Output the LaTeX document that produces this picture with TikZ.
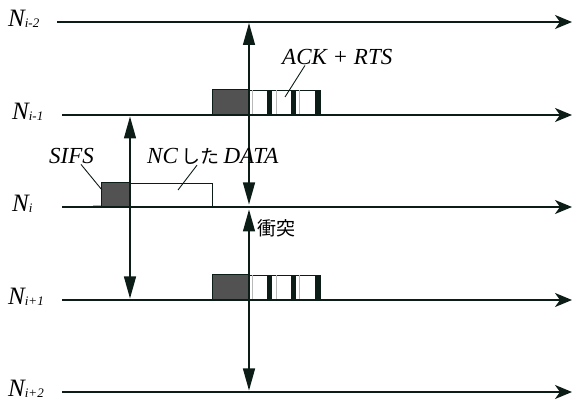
\documentclass[tikz,border=0pt]{standalone}
\usepackage{fontspec}
\setmainfont{Liberation Serif}
\newfontfamily\jpfont{Noto Sans CJK JP}
\usetikzlibrary{arrows.meta}

\definecolor{ink}{RGB}{12,28,22}
\definecolor{slotgray}{RGB}{82,82,82}
\newcommand{\Nlab}[1]{{\fontsize{25}{28}\selectfont\textit{N}}\raisebox{-1pt}{\fontsize{13}{13}\selectfont\textit{#1}}}

\begin{document}
\begin{tikzpicture}[x=1pt,y=-1pt,
  every node/.style={inner sep=0pt,font=\fontsize{23}{26}\selectfont\itshape},
  wire/.style={line width=2pt,draw=ink,-{Stealth[length=17pt,width=14pt,inset=5pt]}},
  span/.style={line width=1.4pt,draw=ink,{Triangle[length=22pt,width=12pt]}-{Triangle[length=22pt,width=12pt]}},
  leader/.style={line width=0.9pt,draw=ink},
  slot/.style={fill=slotgray,draw=ink,line width=1pt},
  frame/.style={fill=white,draw=ink,line width=0.8pt}]
  \useasboundingbox (0,0) rectangle (576,403);

  % ACK + RTS slots on N_{i-1} and N_{i+1}
  \foreach \yb in {115,300}{
    \draw[slot] (212,\yb-25) rectangle (249,\yb);
    \draw[frame] (249,\yb-25) rectangle (320,\yb);
    \foreach \xb in {267,291,315}
      \fill[ink] (\xb,\yb-25) rectangle (\xb+4.5,\yb);
    \foreach \xg in {252.5,276,299.5}
      \draw[gray!55,line width=0.8pt] (\xg,\yb-25) -- (\xg,\yb);
  }

  % SIFS + coded DATA on N_i
  \draw[gray!60,line width=0.8pt] (93,205.5) -- (101,205.5);
  \draw[slot] (101,183) rectangle (130,207);
  \draw[frame] (130,183) rectangle (212,207);

  % time lines of the nodes
  \foreach \n/\yl/\xs/\xl/\sub in {1/22/57/8/i-2,2/115/62/12/i-1,3/207/62/12/i,4/300/62/8/i+1,5/392/62/8/i+2}{
    \coordinate (ws\n) at (\xs,\yl);
    \coordinate (we\n) at (572,\yl);
    \node[anchor=base west] (lab\n) at (\xl,\yl+5) {\Nlab{\sub}};
    \draw[wire] (ws\n) -- (we\n);
  }

  % reach of the transmissions
  \coordinate (upA) at (249,23);   \coordinate (dnA) at (249,204.5);
  \coordinate (upB) at (249,209.5); \coordinate (dnB) at (249,390.5);
  \coordinate (upC) at (130,116.5); \coordinate (dnC) at (130,298.5);
  \draw[span] (upA) -- (dnA);
  \draw[span] (upB) -- (dnB);
  \draw[span] (upC) -- (dnC);

  % labels
  \node[anchor=base west] (ackrts) at (282,65) {ACK + RTS};
  \node[anchor=base west] (sifs) at (49,164) {SIFS};
  \node[anchor=base west] (ncdata) at (147,164) {NC\,{\upshape\jpfont\fontsize{19}{22}\selectfont した}\,DATA};
  \node[anchor=west] (clash) at (257,228) {\upshape\jpfont\fontsize{19}{22}\selectfont 衝突};

  \coordinate (ackpt) at (285,97);
  \coordinate (sifspt) at (102,190);
  \coordinate (datapt) at (178,190);
  \draw[leader] ([xshift=23pt]ackrts.south west) -- (ackpt);
  \draw[leader] ([xshift=32pt]sifs.south west) -- (sifspt);
  \draw[leader] ([xshift=50pt]ncdata.south west) -- (datapt);
\end{tikzpicture}
\end{document}
